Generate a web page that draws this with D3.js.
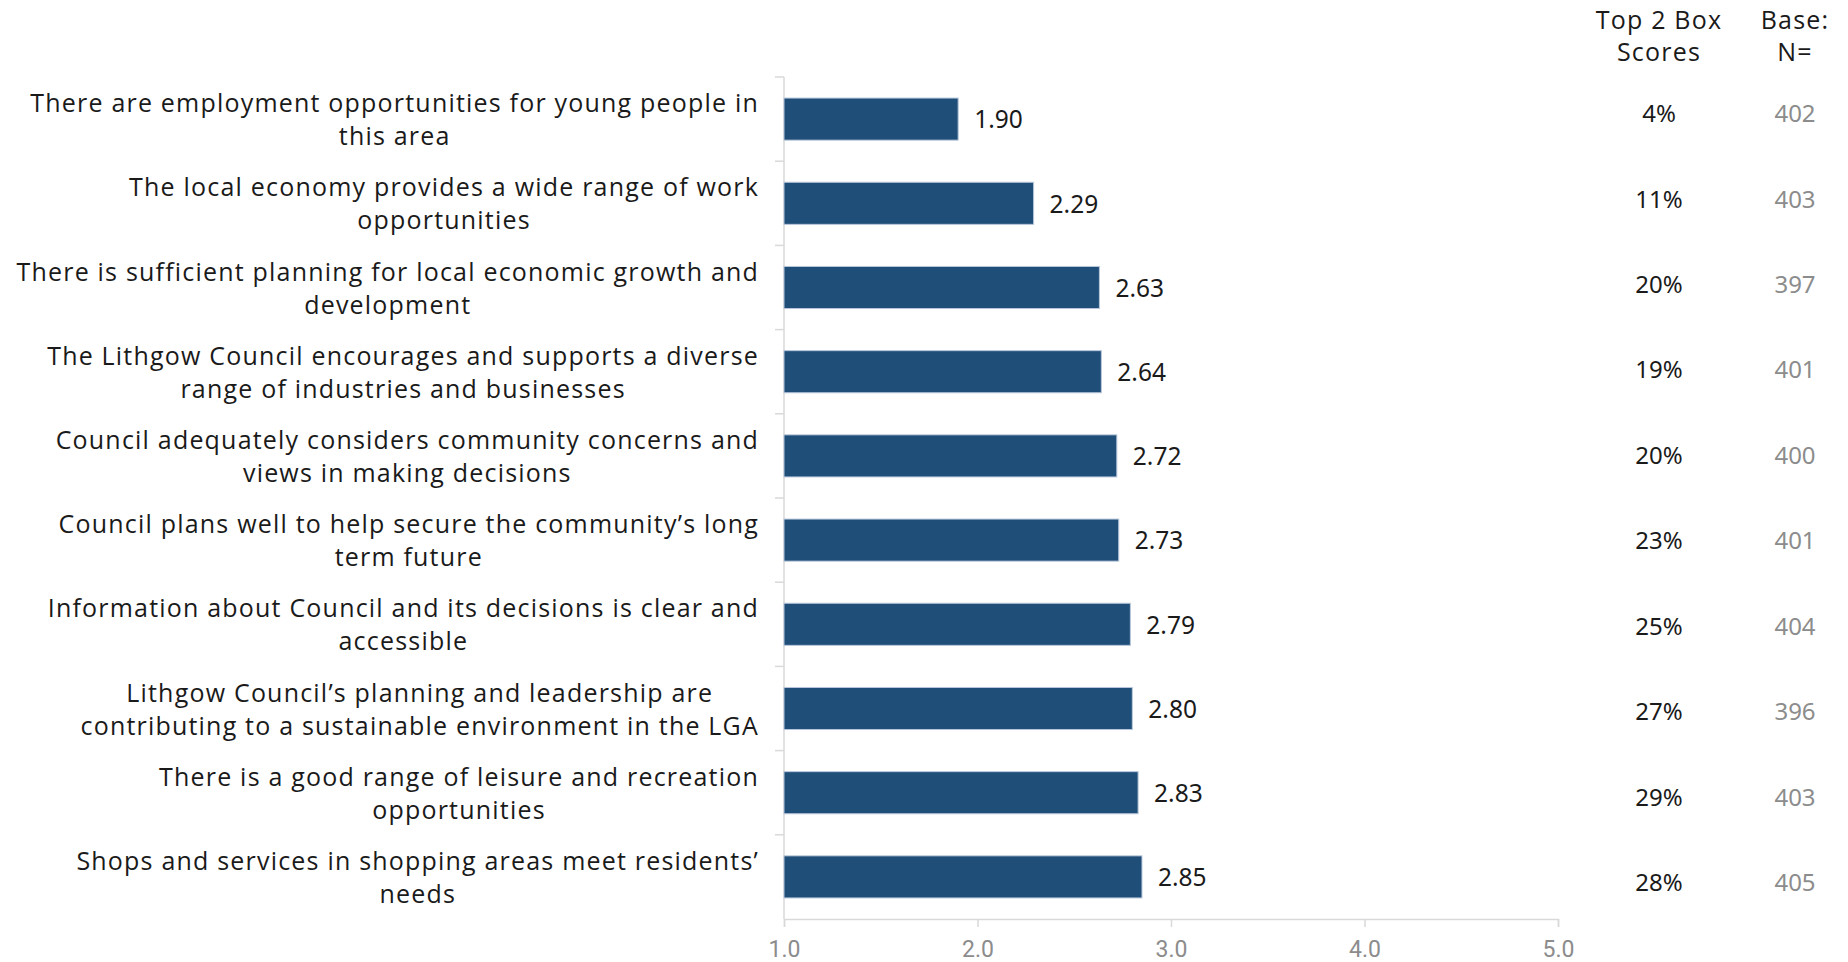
<!DOCTYPE html>
<html>
<head>
<meta charset="utf-8">
<script src="https://cdn.jsdelivr.net/npm/d3@7"></script>
<style>
  html, body { margin: 0; padding: 0; background: #ffffff; }
  svg { display: block; }
</style>
</head>
<body>
<svg id="chart" width="1848" height="962"></svg>
<script>
// Statements (line breaks as they appear in the label column)
const categories = [
  "There are employment opportunities for young people in\nthis area",
  "The local economy provides a wide range of work\nopportunities",
  "There is sufficient planning for local economic growth and\ndevelopment",
  "The Lithgow Council encourages and supports a diverse\nrange of industries and businesses",
  "Council adequately considers community concerns and\nviews in making decisions",
  "Council plans well to help secure the community\u2019s long\nterm future",
  "Information about Council and its decisions is clear and\naccessible",
  "Lithgow Council\u2019s planning and leadership are\ncontributing to a sustainable environment in the LGA",
  "There is a good range of leisure and recreation\nopportunities",
  "Shops and services in shopping areas meet residents\u2019\nneeds"
];
// Mean agreement scores (1 = strongly disagree, 5 = strongly agree)
const meanScores = [1.90, 2.29, 2.63, 2.64, 2.72, 2.73, 2.79, 2.80, 2.83, 2.85];
// Top 2 box (%)
const top2Box = [4, 11, 20, 19, 20, 23, 25, 27, 29, 28];
// Base sizes
const baseN = [402, 403, 397, 401, 400, 401, 404, 396, 403, 405];
// Axis ticks
const xTicks = [1, 2, 3, 4, 5];
const tableHeaders = [["Top 2 Box", "Scores"], ["Base:", "N="]];

const svg = d3.select("#chart");
const labelFont = "'Open Sans', 'Noto Sans', sans-serif";
const numFont = "'Noto Sans', 'Open Sans', sans-serif";

const plot = { left: 784, right: 1558, top: 77, bottom: 919 };

const x = d3.scaleLinear().domain([1, 5]).range([plot.left, plot.right]);
const y = d3.scaleBand()
  .domain(categories)
  .range([plot.top, plot.bottom])
  .paddingInner(0.5)
  .paddingOuter(0.25);

// Table rows on the right sit on their own evenly spaced grid
const rowY = d3.scalePoint().domain(categories).range([113, 882]);

// Horizontal value axis
const xAxis = d3.axisBottom(x)
  .tickValues(xTicks)
  .tickSize(8)
  .tickPadding(14)
  .tickFormat(d3.format(".1f"));
const gx = svg.append("g")
  .attr("transform", `translate(0,${plot.bottom})`)
  .call(xAxis);
gx.select(".domain").attr("stroke", "#d9d9d9").attr("stroke-width", 1.5);
gx.selectAll(".tick line").attr("stroke", "#d9d9d9").attr("stroke-width", 1.5);
gx.selectAll(".tick text")
  .attr("fill", "#8c8c8c")
  .style("font-family", "'Liberation Sans Narrow', 'Roboto', sans-serif")
  .style("font-size", "23px");

// Category axis: vertical line with ticks at band boundaries
const step = y.step();
const boundaries = d3.range(categories.length + 1).map(i => y(categories[0]) - step * 0.25 + i * step);
const gy = svg.append("g");
gy.append("line")
  .attr("x1", plot.left).attr("x2", plot.left)
  .attr("y1", plot.top).attr("y2", plot.bottom)
  .attr("stroke", "#d9d9d9").attr("stroke-width", 1.5);
gy.selectAll("line.tick")
  .data(boundaries.slice(0, -1))
  .join("line")
  .attr("class", "tick")
  .attr("x1", plot.left - 9).attr("x2", plot.left)
  .attr("y1", d => d).attr("y2", d => d)
  .attr("stroke", "#d9d9d9").attr("stroke-width", 1.5);

// Bars
svg.append("g")
  .selectAll("rect")
  .data(categories)
  .join("rect")
  .attr("x", x(1))
  .attr("y", d => y(d))
  .attr("width", (d, i) => x(meanScores[i]) - x(1))
  .attr("height", y.bandwidth())
  .attr("fill", "#1f4e79")
  .attr("stroke", "#b9c8db")
  .attr("stroke-width", 1);

// Value labels
svg.append("g")
  .selectAll("text")
  .data(categories)
  .join("text")
  .attr("x", (d, i) => x(meanScores[i]) + 16)
  .attr("y", d => y(d) + y.bandwidth() / 2)
  .attr("dy", "0.38em")
  .attr("fill", "#1a1a1a")
  .style("font-family", numFont)
  .style("font-size", "24.5px")
  .text((d, i) => meanScores[i].toFixed(2));

// Category labels: block right-aligned, lines centred within the block
const labelRight = 759;
const lineGap = 33;
const labels = svg.append("g");
categories.forEach(cat => {
  const lines = cat.split("\n");
  const cy = y(cat) + y.bandwidth() / 2;
  const g = labels.append("g");
  const texts = g.selectAll("text")
    .data(lines)
    .join("text")
    .attr("y", (l, j) => cy + (j - (lines.length - 1) / 2) * lineGap)
    .attr("dy", "0.38em")
    .attr("text-anchor", "middle")
    .attr("fill", "#1a1a1a")
    .style("font-family", labelFont)
    .style("font-size", "25px")
    .style("letter-spacing", "1.2px")
    .text(l => l);
  let maxW = 0;
  texts.each(function () { maxW = Math.max(maxW, this.getComputedTextLength()); });
  texts.attr("x", labelRight - maxW / 2);
});

// Right-hand table
const colX = [1659, 1795];
tableHeaders.forEach((hdr, c) => {
  svg.append("g").selectAll("text")
    .data(hdr)
    .join("text")
    .attr("x", colX[c])
    .attr("y", (l, j) => 19 + j * 32)
    .attr("dy", "0.38em")
    .attr("text-anchor", "middle")
    .attr("fill", "#1a1a1a")
    .style("font-family", labelFont)
    .style("font-size", "25px")
    .style("letter-spacing", "1.2px")
    .text(l => l);
});

svg.append("g").selectAll("text")
  .data(categories)
  .join("text")
  .attr("x", colX[0])
  .attr("y", d => rowY(d))
  .attr("dy", "0.38em")
  .attr("text-anchor", "middle")
  .attr("fill", "#1a1a1a")
  .style("font-family", numFont)
  .style("font-size", "24px")
  .text((d, i) => top2Box[i] + "%");

svg.append("g").selectAll("text")
  .data(categories)
  .join("text")
  .attr("x", colX[1])
  .attr("y", d => rowY(d))
  .attr("dy", "0.38em")
  .attr("text-anchor", "middle")
  .attr("fill", "#8c8c8c")
  .style("font-family", numFont)
  .style("font-size", "24px")
  .text((d, i) => baseN[i]);
</script>
</body>
</html>
